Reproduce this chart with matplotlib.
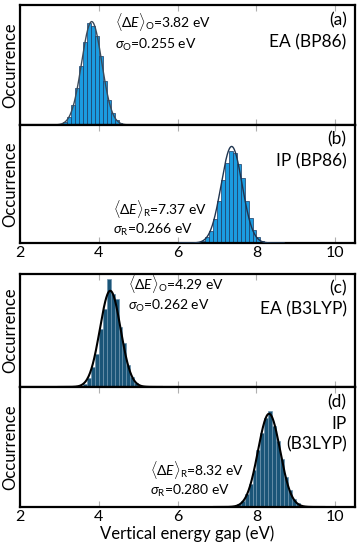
import numpy as np
import matplotlib
matplotlib.use("Agg")
import matplotlib.pyplot as plt

plt.rcParams['font.family'] = ['Lato', 'DejaVu Sans']
plt.rcParams['mathtext.fontset'] = 'custom'
plt.rcParams['mathtext.rm'] = 'Lato'
plt.rcParams['mathtext.it'] = 'Lato:italic'
plt.rcParams['mathtext.bf'] = 'Lato:bold'

# ---- data ----
bin_width = 0.1

centers_a = [3.05, 3.15, 3.25, 3.35, 3.45, 3.55, 3.65, 3.75, 3.85, 3.95, 4.05, 4.15, 4.25, 4.35, 4.45, 4.55, 4.65]
counts_a = [1, 3, 8, 19, 36, 57, 80, 99, 96, 86, 67, 43, 24, 12, 5, 2, 1]
mean_a, sigma_a = 3.82, 0.255

centers_b = [6.55, 6.65, 6.75, 6.85, 6.95, 7.05, 7.15, 7.25, 7.35, 7.45, 7.55, 7.65, 7.75, 7.85, 7.95, 8.05, 8.15, 8.25]
counts_b = [1, 2, 6, 13, 26, 45, 68, 86, 99, 97, 85, 70, 45, 27, 14, 6, 2, 1]
mean_b, sigma_b = 7.37, 0.266

centers_c = [3.55, 3.65, 3.75, 3.85, 3.95, 4.05, 4.15, 4.25, 4.35, 4.45, 4.55, 4.65, 4.75, 4.85, 4.95, 5.05]
counts_c = [1, 3, 9, 20, 33, 58, 78, 108, 93, 88, 60, 44, 22, 10, 4, 1]
mean_c, sigma_c = 4.29, 0.262

centers_d = [7.45, 7.55, 7.65, 7.75, 7.85, 7.95, 8.05, 8.15, 8.25, 8.35, 8.45, 8.55, 8.65, 8.75, 8.85, 8.95, 9.05, 9.15]
counts_d = [1, 3, 7, 14, 25, 40, 62, 80, 96, 104, 88, 72, 52, 33, 18, 9, 4, 1]
mean_d, sigma_d = 8.32, 0.280

x_ticks = [2, 4, 6, 8, 10]
xlabel = "Vertical energy gap (eV)"
ylabel = "Occurrence"

panels = [
    dict(c=centers_a, n=counts_a, mu=mean_a, s=sigma_a, sub='O', tag='(a)', name=['EA (BP86)'],
         ann_x=4.4, ann_y=(0.86, 0.67), ylim_top=116, face='#1b9ce0', edge='#1c3a63',
         line='#3a4a5a', lw=1.0, pos=(125, 5)),
    dict(c=centers_b, n=counts_b, mu=mean_b, s=sigma_b, sub='R', tag='(b)', name=['IP (BP86)'],
         ann_x=4.35, ann_y=(0.285, 0.11), ylim_top=127, face='#1b9ce0', edge='#1c3a63',
         line='#1f3550', lw=1.0, pos=(243, 125)),
    dict(c=centers_c, n=counts_c, mu=mean_c, s=sigma_c, sub='O', tag='(c)', name=['EA (B3LYP)'],
         ann_x=4.75, ann_y=(0.91, 0.72), ylim_top=113, face='#1a5578', edge='#6d93ad',
         line='black', lw=1.5, pos=(387, 274)),
    dict(c=centers_d, n=counts_d, mu=mean_d, s=sigma_d, sub='R', tag='(d)', name=['IP', '(B3LYP)'],
         ann_x=5.3, ann_y=(0.305, 0.135), ylim_top=130, face='#1a5578', edge='#6d93ad',
         line='black', lw=1.5, pos=(507, 387)),
]

W, H = 361, 550
fig = plt.figure(figsize=(W / 100, H / 100), dpi=100)
left_px, right_px = 20, 355

for i, p in enumerate(panels):
    bot, top = p['pos']
    ax = fig.add_axes([left_px / W, 1 - bot / H, (right_px - left_px) / W, (bot - top) / H])
    ax.bar(p['c'], p['n'], width=bin_width, color=p['face'], edgecolor=p['edge'], linewidth=0.5, zorder=2)
    N = sum(p['n'])
    xs = np.linspace(p['mu'] - 5 * p['s'], p['mu'] + 5 * p['s'], 300)
    amp = N * bin_width / (p['s'] * np.sqrt(2 * np.pi))
    ax.plot(xs, amp * np.exp(-(xs - p['mu']) ** 2 / (2 * p['s'] ** 2)), color=p['line'], lw=p['lw'], zorder=3)
    ax.set_xlim(2, 10.5)
    ax.set_ylim(0, p['ylim_top'])
    ax.set_yticks([])
    ax.set_xticks(x_ticks)
    ax.tick_params(axis='x', direction='in', length=4, color='#b0b0b0', width=0.8, top=True, bottom=True,
                   labelsize=11.5, pad=2)
    if i in (0, 2):
        ax.tick_params(axis='x', labelbottom=False)
    for sp in ax.spines.values():
        sp.set_linewidth(1.6)
    ax.set_ylabel(ylabel, fontsize=12, labelpad=1)
    sub = p['sub']
    ax.text(p['ann_x'], p['ann_y'][0] * p['ylim_top'],
            r'$\langle\Delta E\rangle_{\mathrm{%s}}$=%.2f eV' % (sub, p['mu']),
            fontsize=10, va='center', ha='left')
    ax.text(p['ann_x'], p['ann_y'][1] * p['ylim_top'],
            r'$\sigma_{\mathrm{%s}}$=%.3f eV' % (sub, p['s']),
            fontsize=10, va='center', ha='left')
    ax.text(0.975, 0.875, p['tag'], transform=ax.transAxes, ha='right', va='center', fontsize=12.5)
    for j, nm in enumerate(p['name']):
        ax.text(0.975, 0.69 - 0.17 * j, nm, transform=ax.transAxes, ha='right', va='center', fontsize=12.5)
    if i == 3:
        ax.set_xlabel(xlabel, fontsize=12, labelpad=1)

fig.savefig('out.png', dpi=100)
